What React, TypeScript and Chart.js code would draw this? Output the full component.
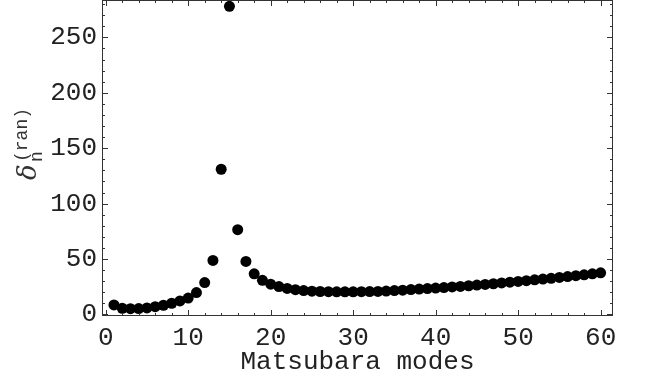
import React, { useEffect, useRef } from "react";
import { Chart, registerables } from "chart.js";

Chart.register(...registerables);

const modes: number[] = Array.from({ length: 60 }, (_, i) => i + 1);
const deltaRan: number[] = [
  8.6, 5.6, 5.2, 5.3, 5.9, 7.0, 8.3, 10.1, 12.2, 14.8,
  19.7, 28.8, 48.7, 131, 278, 76.5, 47.8, 36.7, 30.8, 27.3,
  25.2, 23.5, 22.3, 21.5, 21.0, 20.7, 20.5, 20.4, 20.4, 20.4,
  20.5, 20.6, 20.8, 21.1, 21.5, 21.9, 22.4, 22.9, 23.3, 23.8,
  24.3, 24.8, 25.3, 25.9, 26.5, 27.1, 27.7, 28.4, 29.1, 29.8,
  30.5, 31.2, 31.9, 32.6, 33.4, 34.2, 35.0, 35.8, 36.7, 37.6,
];
const xTickValues: number[] = [0, 10, 20, 30, 40, 50, 60];
const yTickValues: number[] = [0, 50, 100, 150, 200, 250];
const xMinorStep = 2;
const yMinorStep = 10;
const xTitle = "Matsubara modes";

const MONO = "'Liberation Mono', 'DejaVu Sans Mono', monospace";

const framePlugin = {
  id: "frameTicks",
  afterDraw(chart: any) {
    const { ctx, chartArea } = chart;
    const xs = chart.scales.x;
    const ys = chart.scales.y;
    const { left, right, top, bottom } = chartArea;
    ctx.save();
    ctx.strokeStyle = "#333";
    ctx.lineWidth = 1;
    ctx.strokeRect(left + 0.5, top + 0.5, right - left - 1, bottom - top - 1);
    ctx.beginPath();
    for (let v = Math.ceil(xs.min / xMinorStep) * xMinorStep; v <= xs.max; v += xMinorStep) {
      const px = Math.round(xs.getPixelForValue(v)) + 0.5;
      const len = v % 10 === 0 ? 6 : 3;
      ctx.moveTo(px, bottom);
      ctx.lineTo(px, bottom - len);
      ctx.moveTo(px, top);
      ctx.lineTo(px, top + len);
    }
    for (let v = Math.ceil(ys.min / yMinorStep) * yMinorStep; v <= ys.max; v += yMinorStep) {
      const py = Math.round(ys.getPixelForValue(v)) + 0.5;
      const len = v % 50 === 0 ? 6 : 3;
      ctx.moveTo(left, py);
      ctx.lineTo(left + len, py);
      ctx.moveTo(right, py);
      ctx.lineTo(right - len, py);
    }
    ctx.stroke();

    ctx.fillStyle = "#333";
    ctx.textBaseline = "alphabetic";
    ctx.textAlign = "left";
    ctx.save();
    ctx.translate(36, 180);
    ctx.rotate(-Math.PI / 2);
    ctx.font = "italic 26px 'DejaVu Serif', serif";
    ctx.fillText("\u03b4", 0, 0);
    ctx.restore();
    ctx.save();
    ctx.translate(42, 162);
    ctx.rotate(-Math.PI / 2);
    ctx.font = `18px ${MONO}`;
    ctx.fillText("n", 0, 0);
    ctx.restore();
    ctx.save();
    ctx.translate(27, 162);
    ctx.rotate(-Math.PI / 2);
    ctx.font = `18px ${MONO}`;
    ctx.fillText("(ran)", 0, 0);
    ctx.restore();
    ctx.restore();
  },
};

export default function App() {
  const ref = useRef<HTMLCanvasElement | null>(null);
  useEffect(() => {
    document.body.style.margin = "0";
    if (!ref.current) return;
    const chart = new Chart(ref.current, {
      type: "scatter",
      data: {
        datasets: [
          {
            data: modes.map((m, i) => ({ x: m, y: deltaRan[i] })),
            backgroundColor: "#000",
            borderColor: "#000",
            pointRadius: 5.5,
            pointBorderWidth: 0,
          },
        ],
      },
      options: {
        animation: false,
        responsive: false,
        devicePixelRatio: 1,
        layout: { autoPadding: false, padding: { top: 0, right: 33, left: 0, bottom: 0 } },
        plugins: { legend: { display: false }, tooltip: { enabled: false } },
        scales: {
          x: {
            type: "linear",
            min: -0.45,
            max: 61.5,
            grid: { display: false, drawTicks: false },
            border: { display: false },
            afterBuildTicks: (s: any) => {
              s.ticks = xTickValues.map((v) => ({ value: v }));
            },
            afterFit: (s: any) => {
              s.height = 65;
              s.paddingLeft = 0;
              s.paddingRight = 0;
            },
            ticks: {
              color: "#222",
              font: { family: MONO, size: 26 },
              padding: 7,
              maxRotation: 0,
              autoSkip: false,
            },
            title: {
              display: true,
              text: xTitle,
              color: "#222",
              font: { family: MONO, size: 26 },
              padding: { top: 0, bottom: 3 },
            },
          },
          y: {
            type: "linear",
            min: -1.4,
            max: 283.7,
            grid: { display: false, drawTicks: false },
            border: { display: false },
            afterBuildTicks: (s: any) => {
              s.ticks = yTickValues.map((v) => ({ value: v }));
            },
            afterFit: (s: any) => {
              s.width = 102;
              s.paddingTop = 0;
              s.paddingBottom = 0;
            },
            ticks: {
              color: "#222",
              font: { family: MONO, size: 26 },
              padding: 5,
              autoSkip: false,
            },
          },
        },
      },
      plugins: [framePlugin],
    });
    return () => chart.destroy();
  }, []);
  return <canvas ref={ref} width={646} height={381} style={{ display: "block" }} />;
}
